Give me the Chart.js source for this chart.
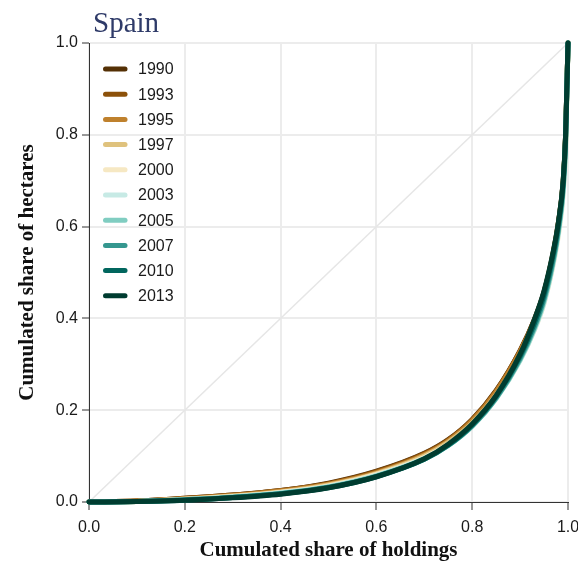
<!DOCTYPE html>
<html>
<head>
<meta charset="utf-8">
<script src="https://cdn.jsdelivr.net/npm/chart.js@4"></script>
<style>
  html, body { margin: 0; padding: 0; background: #fff; }
  #wrap { width: 578px; height: 563px; }
</style>
</head>
<body>
<div id="wrap"><canvas id="lorenz" width="578" height="563"></canvas></div>
<script>
// Lorenz curves of land concentration, Spain
const years = ['1990', '1993', '1995', '1997', '2000', '2003', '2005', '2007', '2010', '2013'];
const yearColors = ['#543005', '#8c510a', '#bf812d', '#dfc27d', '#f6e8c3',
                    '#c7eae5', '#80cdc1', '#35978f', '#01665e', '#003c30'];

// cumulated share of holdings (x)
const holdingShare = [0, 0.1, 0.2, 0.3, 0.4, 0.5, 0.6, 0.7, 0.75, 0.8, 0.85, 0.9, 0.93, 0.95, 0.97, 0.98, 0.99, 0.995, 1];

// cumulated share of hectares (y), one list per year
const hectares1990 = [0, 0.002, 0.008, 0.015, 0.025, 0.041, 0.067, 0.106, 0.136, 0.180, 0.243, 0.330, 0.398, 0.458, 0.548, 0.610, 0.700, 0.800, 1];
const hectares1993 = [0, 0.002, 0.008, 0.015, 0.025, 0.040, 0.066, 0.105, 0.135, 0.179, 0.242, 0.329, 0.397, 0.457, 0.547, 0.608, 0.698, 0.798, 1];
const hectares1995 = [0, 0.002, 0.007, 0.014, 0.024, 0.039, 0.064, 0.103, 0.133, 0.177, 0.240, 0.327, 0.395, 0.455, 0.545, 0.605, 0.695, 0.795, 1];
const hectares1997 = [0, 0.001, 0.006, 0.013, 0.022, 0.037, 0.062, 0.100, 0.130, 0.172, 0.233, 0.318, 0.385, 0.445, 0.535, 0.595, 0.685, 0.785, 1];
const hectares2000 = [0, 0.001, 0.006, 0.012, 0.021, 0.035, 0.060, 0.097, 0.126, 0.167, 0.226, 0.309, 0.375, 0.433, 0.522, 0.582, 0.672, 0.772, 1];
const hectares2003 = [0, 0.001, 0.005, 0.011, 0.020, 0.034, 0.058, 0.095, 0.124, 0.165, 0.225, 0.308, 0.375, 0.434, 0.524, 0.585, 0.676, 0.777, 1];
const hectares2005 = [0, 0.001, 0.005, 0.011, 0.019, 0.033, 0.057, 0.094, 0.123, 0.165, 0.226, 0.310, 0.378, 0.438, 0.528, 0.590, 0.682, 0.783, 1];
const hectares2007 = [0, 0.001, 0.005, 0.010, 0.018, 0.032, 0.056, 0.093, 0.123, 0.166, 0.227, 0.313, 0.382, 0.443, 0.533, 0.595, 0.688, 0.790, 1];
const hectares2010 = [0, 0.001, 0.004, 0.010, 0.018, 0.031, 0.055, 0.093, 0.124, 0.168, 0.230, 0.318, 0.390, 0.452, 0.544, 0.606, 0.698, 0.798, 1];
const hectares2013 = [0, 0.001, 0.004, 0.009, 0.017, 0.031, 0.055, 0.094, 0.126, 0.170, 0.232, 0.322, 0.398, 0.460, 0.550, 0.610, 0.700, 0.800, 1];

const hectaresByYear = [hectares1990, hectares1993, hectares1995, hectares1997, hectares2000,
                        hectares2003, hectares2005, hectares2007, hectares2010, hectares2013];

// line of perfect equality
const equalityLine = [0, 1];

const axisTicks = [0, 0.2, 0.4, 0.6, 0.8, 1.0];

// Title drawn at the left edge of the plot area
const titlePlugin = {
    id: 'spainTitle',
    afterDraw(chart) {
        const ctx = chart.ctx;
        ctx.save();
        ctx.font = '29px "Liberation Serif", "Times New Roman", serif';
        ctx.fillStyle = '#2f3b69';
        ctx.textBaseline = 'alphabetic';
        ctx.fillText('Spain', chart.chartArea.left + 4, 32);
        ctx.restore();
    }
};

// Legend drawn inside the plot, top left
const insideLegend = {
    id: 'insideLegend',
    afterDatasetsDraw(chart) {
        const ctx = chart.ctx;
        const area = chart.chartArea;
        ctx.save();
        ctx.font = '16px "Liberation Sans", Arial, sans-serif';
        ctx.textBaseline = 'middle';
        ctx.lineCap = 'round';
        ctx.lineWidth = 5;
        years.forEach((year, i) => {
            const y = area.top + 26 + i * 25.2;
            const x = area.left + 16.5;
            ctx.strokeStyle = yearColors[i];
            ctx.beginPath();
            ctx.moveTo(x, y);
            ctx.lineTo(x + 19.5, y);
            ctx.stroke();
            ctx.fillStyle = '#1a1a1a';
            ctx.fillText(year, area.left + 49, y + 1);
        });
        ctx.restore();
    }
};

function buildDatasets() {
    const sets = years.map((year, i) => ({
        label: year,
        data: holdingShare.map((x, k) => ({ x: x, y: hectaresByYear[i][k] })),
        borderColor: yearColors[i],
        backgroundColor: yearColors[i],
        borderWidth: 5,
        borderCapStyle: 'round',
        borderJoinStyle: 'round',
        pointRadius: 0,
        cubicInterpolationMode: 'monotone',
        clip: false,
        order: years.length - i
    }));
    sets.push({
        label: 'equality',
        data: equalityLine.map(v => ({ x: v, y: v })),
        borderColor: '#e6e6e6',
        borderWidth: 1.5,
        pointRadius: 0,
        order: 50
    });
    return sets;
}

const tickFont = { family: '"Liberation Sans", Arial, sans-serif', size: 16 };
const axisTitleFont = { family: '"Liberation Serif", "Times New Roman", serif', size: 21, weight: 'bold' };

new Chart(document.getElementById('lorenz'), {
    type: 'line',
    data: { datasets: buildDatasets() },
    options: {
        responsive: false,
        animation: false,
        layout: { padding: { top: 43, right: 10, left: 0, bottom: 0 } },
        plugins: {
            legend: { display: false },
            tooltip: { enabled: false }
        },
        scales: {
            x: {
                type: 'linear',
                min: 0,
                max: 1,
                afterBuildTicks: function(scale) {
                    scale.ticks = axisTicks.map(v => ({ value: v }));
                },
                afterFit: function(scale) {
                    scale.height = 61;
                    scale.paddingLeft = 0;
                    scale.paddingRight = 0;
                },
                ticks: {
                    font: tickFont,
                    color: '#1a1a1a',
                    padding: 8,
                    maxRotation: 0,
                    callback: function(value) { return value.toFixed(1); }
                },
                grid: {
                    color: '#ececec',
                    lineWidth: 2,
                    tickColor: '#333',
                    tickWidth: 1,
                    tickLength: 8
                },
                border: { display: true, color: '#333', width: 1 },
                title: {
                    display: true,
                    text: 'Cumulated share of holdings',
                    font: axisTitleFont,
                    color: '#111',
                    padding: { top: 0, bottom: 0 }
                }
            },
            y: {
                type: 'linear',
                min: 0,
                max: 1,
                afterBuildTicks: function(scale) {
                    scale.ticks = axisTicks.map(v => ({ value: v }));
                },
                afterFit: function(scale) {
                    scale.width = 89;
                    scale.paddingTop = 0;
                    scale.paddingBottom = 0;
                },
                ticks: {
                    font: tickFont,
                    color: '#1a1a1a',
                    padding: 4,
                    callback: function(value) { return value.toFixed(1); }
                },
                grid: {
                    color: '#ececec',
                    lineWidth: 2,
                    tickColor: '#333',
                    tickWidth: 1,
                    tickLength: 7
                },
                border: { display: true, color: '#333', width: 1 },
                title: {
                    display: true,
                    text: 'Cumulated share of hectares',
                    font: axisTitleFont,
                    color: '#111',
                    padding: { top: 14.5, bottom: 0 }
                }
            }
        }
    },
    plugins: [titlePlugin, insideLegend]
});
</script>
</body>
</html>
